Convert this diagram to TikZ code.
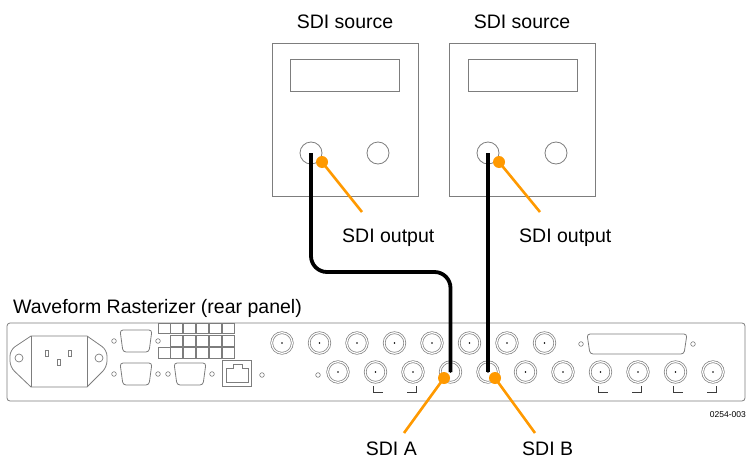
\documentclass[tikz,border=0pt]{standalone}
\usepackage{fontspec}
\setmainfont{Liberation Sans}
\usetikzlibrary{calc}
\definecolor{linegray}{RGB}{125,125,125}
\definecolor{tekorange}{RGB}{255,153,0}
\definecolor{brk}{RGB}{60,60,60}
\newcommand{\dsubconn}[4]{%
  \draw[gl, rounded corners=3pt] (#1-#3,#2-#4) -- (#1+#3,#2-#4) -- (#1+#3-3,#2+#4) -- (#1-#3+3,#2+#4) -- cycle;
  \draw[gl, line width=0.6pt] (#1-#3-6,#2) circle (2.3) (#1+#3+6,#2) circle (2.3);}
\tikzset{
  gl/.style={draw=linegray, line width=0.8pt},
  srcbox/.style={gl, rectangle, inner sep=0pt, outer sep=0pt, minimum width=146pt, minimum height=153pt},
  display/.style={gl, rectangle, inner sep=0pt, outer sep=0pt, minimum width=109pt, minimum height=32pt},
  srcjack/.style={gl, circle, inner sep=0pt, outer sep=0pt, minimum size=22pt},
  bnc/.style={circle, draw=linegray, line width=0.7pt, double=white, double distance=1.2pt, inner sep=0pt, outer sep=0pt, minimum size=20.6pt},
  cable/.style={draw=black, line width=3.8pt, rounded corners=16pt},
  pointer/.style={draw=tekorange, line width=2.6pt},
  pdot/.style={circle, fill=tekorange, inner sep=0pt, outer sep=0pt, minimum size=12pt},
  lbl/.style={font=\fontsize{19.5}{22}\selectfont, inner sep=0pt},
  brkline/.style={draw=brk, line width=0.9pt},
}
\begin{document}
\begin{tikzpicture}[x=1pt,y=-1pt]
\useasboundingbox (0,0) rectangle (750,463);

% SDI sources
\node[lbl, anchor=base] (tA) at (345,28) {SDI source};
\node[lbl, anchor=base] (tB) at (522,28) {SDI source};
\node[srcbox] (srcA) at (345,119.5) {};
\node[srcbox] (srcB) at (522,119.5) {};
\node[display] (dispA) at (344.5,75) {};
\node[display] (dispB) at (522.5,75) {};
\node[srcjack] (outA) at (311,153) {};
\node[srcjack] (auxA) at (378,153) {};
\node[srcjack] (outB) at (488,153) {};
\node[srcjack] (auxB) at (556,153) {};

% rear panel
\node[lbl, anchor=base west] (ptitle) at (13,313) {Waveform Rasterizer (rear panel)};
\draw[gl, rounded corners=3pt] (7,323) rectangle (745,401);

% power inlet
\draw[gl] (31,336) -- (87,336) [rounded corners=6pt] -- (107,350) -- (107,367) [sharp corners] -- (87,387) -- (31,387) [rounded corners=6pt] -- (10,367) -- (10,350) [sharp corners] -- cycle;
\draw[gl] (31,336) -- (31,387) (87,336) -- (87,387);
\draw[gl, line width=0.7pt] (19,358) circle (4) (99,358) circle (4);
\draw[gl, line width=0.7pt] (45.5,350) rectangle (48.5,356) (68.5,350) rectangle (71.5,356) (57.5,359) rectangle (60.5,365);

% D-sub connectors
\dsubconn{136}{341}{16}{11}
\dsubconn{136}{374}{16}{11}
\dsubconn{190}{374}{16}{11}
\dsubconn{637}{344}{50}{10}

% grid of squares
\foreach \c in {0,...,5} \draw[gl, line width=0.7pt] (158+\c*12.83,323) rectangle ++(12,10.5);
\foreach \c in {1,...,5} \draw[gl, line width=0.7pt] (158+\c*12.83,335) rectangle ++(12,11);
\foreach \c in {0,...,5} \draw[gl, line width=0.7pt] (158+\c*12.83,347.5) rectangle ++(12,11);

% RJ45
\draw[gl] (222,360) rectangle (251,386);
\draw[gl, line width=0.7pt] (226,382) -- (226,368) -- (233,368) -- (233,364) -- (242,364) -- (242,368) -- (248,368) -- (248,382) -- cycle;

% small holes
\draw[gl, line width=0.6pt] (262,375) circle (2.3) (318,375) circle (2.3);

% BNC connectors
\foreach \k in {0,...,7} {
  \node[bnc] (top\k) at (282+37.5*\k,343) {};
  \fill[black] (top\k.center) circle (0.9);
}
\foreach \k in {0,...,10} {
  \node[bnc] (bot\k) at (338+37.5*\k,372) {};
  \fill[black] (bot\k.center) circle (0.9);
}

% brackets
\foreach \k in {1,7,9} \draw[brkline] ($(bot\k.center)+(-2,14)$) -- ++(0,6) -- ++(9,0);
\foreach \k in {2,8,10} \draw[brkline] ($(bot\k.center)+(3,14)$) -- ++(0,6) -- ++(-9,0);

% cables
\coordinate (bend) at (0,272);
\draw[cable] (outA.center) -- (outA.center |- bend) -- (bot3.center |- bend) -- (bot3.center);
\draw[cable] (outB.center) -- (bot4.center);

% pointers and labels
\node[pdot] (dOA) at (322,162) {};
\coordinate (eOA) at (362,212);
\draw[pointer] (dOA.center) -- (eOA);
\node[lbl, anchor=base west] (lOA) at (342,242) {SDI output};

\node[pdot] (dOB) at (499,162) {};
\coordinate (eOB) at (540,212);
\draw[pointer] (dOB.center) -- (eOB);
\node[lbl, anchor=base west] (lOB) at (519,242) {SDI output};

\node[pdot] (dA) at (444,378) {};
\coordinate (eA) at (404,433);
\draw[pointer] (dA.center) -- (eA);
\node[lbl, anchor=base east] (lA) at (417,455) {SDI A};

\node[pdot] (dB) at (495,378) {};
\coordinate (eB) at (535,433);
\draw[pointer] (dB.center) -- (eB);
\node[lbl, anchor=base west] (lB) at (522,455) {SDI B};

\node[font=\fontsize{8.5}{10}\selectfont, anchor=base east, inner sep=0pt] (fig) at (746,417) {0254-003};
\end{tikzpicture}
\end{document}
